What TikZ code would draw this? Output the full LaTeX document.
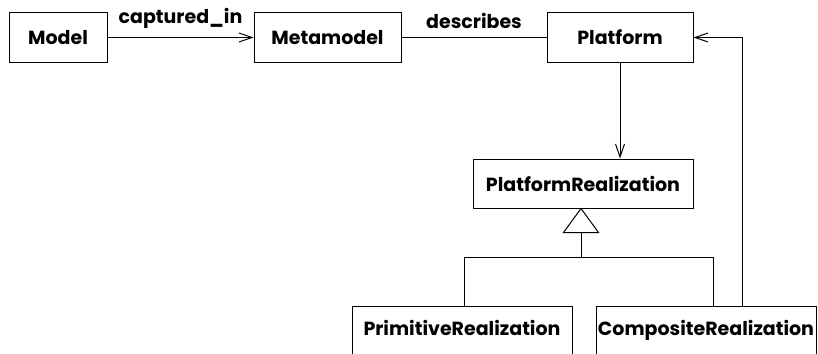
\documentclass[tikz,border=0pt]{standalone}
\usepackage{fontspec}
\setmainfont{Poppins}
\usetikzlibrary{arrows.meta,calc}

\tikzset{
  cls/.style={draw, line width=1pt, minimum width=#1, minimum height=49pt,
              inner sep=0pt, font=\fontsize{19}{22}\selectfont\bfseries},
  subcls/.style={draw, line width=1pt, minimum width=#1, anchor=north, inner sep=0pt,
              text height=29pt, text depth=31pt, font=\fontsize{19}{22}\selectfont\bfseries},
  assoc/.style={line width=1pt},
  nav/.style={line width=1pt, -{Straight Barb[length=13pt,width=9pt,line width=1pt]}},
  role/.style={font=\fontsize{19}{22}\selectfont\bfseries, inner sep=0pt}
}

\begin{document}
\begin{tikzpicture}[x=1pt, y=-1pt]
  \useasboundingbox (0,0) rectangle (818,353);
  \clip (0,0) rectangle (818,353);

  % classes
  \node[cls=98pt]  (model)    at (58,37.5)    {Model};
  \node[cls=147pt] (meta)     at (327.5,37.5) {Metamodel};
  \node[cls=146pt] (platform) at (620,37.5)   {Platform};
  \node[cls=220pt] (pr)       at (583,183.5)  {PlatformRealization};
  \node[subcls=220pt] (prim)  at (462,306)    {PrimitiveRealization};
  \node[subcls=220pt] (comp)  at (706,306)    {CompositeRealization};

  % associations
  \draw[nav] (model.east) -- node[role, above=8pt] {captured\_in} (meta.west);
  \draw[assoc] (meta.east) -- node[role, above=8pt] {describes} (platform.west);
  \draw[nav] (platform.south) -- (platform.south |- pr.north);
  \draw[nav] ([xshift=36pt]comp.north) |- (platform.east);

  % generalization
  \coordinate (tri) at ([xshift=-2pt]pr.south);
  \coordinate (bar) at ($(tri)+(0,49)$);
  \draw[assoc, fill=white] (tri) -- ++(17.5,24) -- ++(-35,0) -- cycle;
  \draw[assoc] ($(tri)+(0,24)$) -- (bar);
  \draw[assoc] ([xshift=2pt]prim.north) |- ([xshift=7pt]comp.north |- bar)
               -- ([xshift=7pt]comp.north);
\end{tikzpicture}
\end{document}
